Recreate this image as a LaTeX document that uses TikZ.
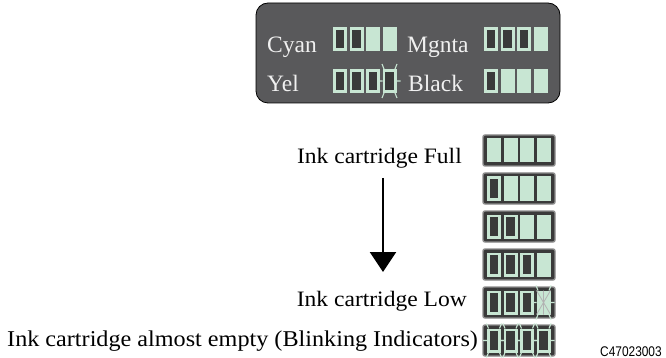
\documentclass[tikz,border=0pt]{standalone}
\usepackage{fontspec}
\setmainfont{Liberation Serif}[FakeStretch=1.07]
\newfontfamily\panelfont{Liberation Serif}
\newfontfamily\codefont{Liberation Sans}[FakeStretch=0.85]
\usetikzlibrary{arrows.meta}
\definecolor{lg}{HTML}{C8E6D3}
\definecolor{dk}{HTML}{3A3A3A}
\definecolor{pg}{HTML}{59595B}
\definecolor{bx}{HTML}{8C8C8C}
\definecolor{ptxt}{HTML}{F0F0F0}
\tikzset{
  fullcell/.pic={\fill[lg] (0,0) rectangle (14,24);},
  emptycell/.pic={\fill[lg] (0,0) rectangle (14,24); \fill[dk] (2.7,2.7) rectangle (11.3,21.3);},
  tickst/.style={draw=lg, line width=1.1pt},
  blinkempty/.pic={
    \fill[lg] (0,0) rectangle (14,24); \fill[dk] (2.7,2.7) rectangle (11.3,21.3);
    \draw[tickst] (1.5,0) -- (-0.5,-5) (12.5,0) -- (14.5,-5)
      (0,12) -- (-4,12) (14,12) -- (18,12)
      (1.5,24) -- (-0.5,29) (12.5,24) -- (14.5,29);},
  blinkfull/.pic={
    \fill[lg] (0,0) rectangle (14,24);
    \draw[draw=gray!60, line width=0.8pt] (0,0) -- (14,24) (14,0) -- (0,24) (7,0) -- (7,24);
    \draw[tickst] (1.5,0) -- (-0.5,-5) (12.5,0) -- (14.5,-5)
      (0,12) -- (-4,12) (14,12) -- (18,12)
      (1.5,24) -- (-0.5,29) (12.5,24) -- (14.5,29);},
  boxst/.style={draw=bx, fill=dk, line width=1.4pt, rounded corners=2pt},
  lbl/.style={inner sep=0pt, font=\fontsize{22}{26}\selectfont},
  plbl/.style={inner sep=0pt, text=ptxt, font=\panelfont\fontsize{23.5}{27}\selectfont, anchor=base west},
}
\begin{document}
\begin{tikzpicture}[x=1pt, y=-1pt]
\useasboundingbox (0,0) rectangle (666,358);
% panel
\draw[fill=pg, draw=black, line width=0.8pt, rounded corners=12pt] (256,3) rectangle (560,103);
\node[plbl] (cyan) at (267,53) {Cyan};
\node[plbl] (yel) at (267,92) {Yel};
\node[plbl] (mgnta) at (407,53) {Mgnta};
\node[plbl] (black) at (408,92) {Black};
% panel indicators
\foreach \k in {0,1,2,3}{
  \ifnum\k<2 \pic at (333+16.5*\k,27) {emptycell}; \else \pic at (333+16.5*\k,27) {fullcell}; \fi
  \ifnum\k<3 \pic at (484+16.5*\k,27) {emptycell}; \else \pic at (484+16.5*\k,27) {fullcell}; \fi
  \ifnum\k<3 \pic at (333+16.5*\k,69) {emptycell}; \else \pic at (333+16.5*\k,69) {blinkempty}; \fi
  \ifnum\k<1 \pic at (484+16.5*\k,69) {emptycell}; \else \pic at (484+16.5*\k,69) {fullcell}; \fi
}
% right column
\foreach \yy in {135,173,211,249,287,325}{
  \draw[boxst] (483,\yy) rectangle (555,\yy+31);
}
\foreach \yy/\n in {135/0,173/1,211/2,249/3}{
  \foreach \k in {0,1,2,3}{
    \ifnum\k<\n \pic at (487+16.5*\k,\yy+3.5) {emptycell}; \else \pic at (487+16.5*\k,\yy+3.5) {fullcell}; \fi
  }
}
\foreach \k in {0,1,2}{ \pic at (487+16.5*\k,290.5) {emptycell}; }
\pic at (536.5,290.5) {blinkfull};
\foreach \k in {0,1,2,3}{ \pic at (487+16.5*\k,328.5) {blinkempty}; }
% labels
\node[lbl, anchor=base east] (full) at (462,164) {Ink cartridge Full};
\node[lbl, anchor=base east] (low) at (467,306) {Ink cartridge Low};
\node[inner sep=0pt, anchor=base west, font=\fontsize{22.6}{26}\selectfont] (empty) at (7,346) {Ink cartridge almost empty (Blinking Indicators)};
\node[inner sep=0pt, anchor=base west, font=\codefont\fontsize{14}{16}\selectfont] (code) at (600,356) {C47023003};
% arrow
\coordinate (atop) at (383,178);
\coordinate (abot) at (383,272);
\draw[-{Triangle[length=20pt,width=26pt]}, line width=2.6pt] (atop) -- (abot);
\end{tikzpicture}
\end{document}
